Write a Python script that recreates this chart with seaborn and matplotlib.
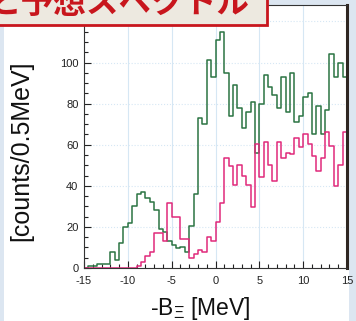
import numpy as np
import pandas as pd
import matplotlib
matplotlib.use("Agg")
import matplotlib.pyplot as plt
from matplotlib.patches import Rectangle
from matplotlib.ticker import MultipleLocator
import seaborn as sns

# binning: 0.5 MeV from -15 to 15
edges = list(np.arange(-15, 15.01, 0.5))

# green spectrum (counts / 0.5 MeV)
green = [0, 1, 1, 2, 2, 2, 8, 4, 12, 20,
         22, 30, 36, 37, 34, 32, 28, 19, 17.5, 13,
         11, 9.5, 10, 8, 20.5, 36, 73, 70, 101, 93,
         111, 115, 95, 74, 89, 78, 68, 76, 81, 56,
         80, 94, 88, 84, 78, 93, 76, 95, 71, 74,
         83, 85, 65, 79, 65, 77, 104, 93, 100, 93]

# magenta spectrum
magenta = [0, 0, 0, 0, 0, 0, 0, 0, 0, 0,
           0, 0, 1, 3, 6, 8, 17, 17, 13, 31.5,
           25, 25, 14, 14, 5, 7, 9, 8, 15, 13,
           22.5, 31.5, 53.5, 49.5, 40.5, 50, 45, 40.5, 29.5, 60.5,
           44.5, 61.5, 50, 42.5, 61.5, 53.5, 56, 55.5, 63.5, 59,
           65, 60.5, 54.5, 47, 53.5, 66, 59.5, 40, 50, 66]

yticks = [0, 20, 40, 60, 80, 100, 120]
ytick_labels = ["0", "20", "40", "60", "80", "100", ""]  # 120 hidden under the title box

title = "と予想スペクトル"

centers = [(a + b) / 2 for a, b in zip(edges[:-1], edges[1:])]
df = pd.DataFrame({
    "E": centers + centers,
    "counts": green + magenta,
    "series": ["green"] * len(green) + ["magenta"] * len(magenta),
})

plt.rcParams["axes.unicode_minus"] = False
plt.rcParams["font.family"] = ["Liberation Sans", "DejaVu Sans"]
plt.rcParams["mathtext.fontset"] = "custom"
plt.rcParams["mathtext.rm"] = "Liberation Sans"
plt.rcParams["mathtext.it"] = "Liberation Sans"

W, H = 356, 321
fig = plt.figure(figsize=(W / 100, H / 100), dpi=100, facecolor="#dce6f1")
fig.add_artist(Rectangle((4 / W, 0), (349 - 4) / W, 1 - 5 / H,
                         transform=fig.transFigure, facecolor="white",
                         edgecolor="none", zorder=-1))

ax = fig.add_axes([84 / W, 1 - 268 / H, (347 - 84) / W, (268 - 5) / H])

sns.histplot(data=df, x="E", weights="counts", hue="series", bins=edges,
             element="step", fill=False, linewidth=1.1, legend=False,
             palette={"green": "#2b7443", "magenta": "#e0297b"},
             hue_order=["magenta", "green"], ax=ax)

ax.set_xlim(-15, 15)
ax.set_ylim(0, 128)
ax.xaxis.set_major_locator(MultipleLocator(5))
ax.xaxis.set_minor_locator(MultipleLocator(1))
ax.set_yticks(yticks, labels=ytick_labels)
ax.yaxis.set_minor_locator(MultipleLocator(5))
ax.tick_params(which="both", direction="in", colors="#222222", width=0.8)
ax.tick_params(which="major", length=5, labelsize=8)
ax.tick_params(which="minor", length=3)
ax.tick_params(axis="y", pad=4)
ax.tick_params(axis="x", pad=6)

ax.set_axisbelow(True)
ax.grid(axis="x", which="major", color="#d6e7f4", lw=0.8)
ax.grid(axis="y", which="major", color="#d6e7f4", lw=0.8, ls=":")

for s in ["left", "bottom", "top"]:
    ax.spines[s].set_color("#333333")
    ax.spines[s].set_linewidth(0.8)
ax.spines["right"].set_color("#2e2621")
ax.spines["right"].set_linewidth(2.2)

ax.set_xlabel("")
ax.set_ylabel("")
fig.text(200 / W, 1 - 308 / H, "-B$_{\\Xi}$ [MeV]", ha="center", va="center",
         fontsize=16.5, color="#111111")
fig.text(21 / W, 1 - 151 / H, "[counts/0.5MeV]", ha="center", va="center",
         rotation=90, fontsize=18, color="#111111")

# slide title box, cut off at the top
fig.add_artist(Rectangle((-0.02, 1 - 25 / H), 0.02 + 267 / W, 30 / H,
                         transform=fig.transFigure, facecolor="#ede9e0",
                         edgecolor="#c8161d", linewidth=2, zorder=5))
fig.text(249 / W, 1 - 13 / H, title, ha="right", va="baseline",
         fontsize=23.5, fontweight="bold", color="#c8161d",
         family=["Noto Sans CJK JP", "DejaVu Sans"], zorder=6)

fig.savefig("out.png", dpi=100)
